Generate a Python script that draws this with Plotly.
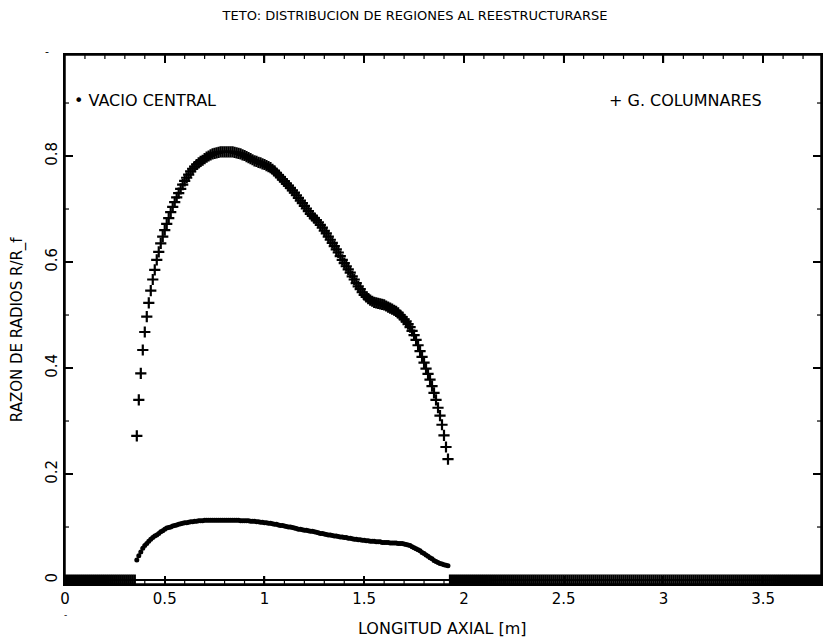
import plotly.graph_objects as go

# Axial grid of the computed profile (m)
AXIAL = [round(0.36 + 0.01 * i, 2) for i in range(157)]

COLUMNARES = [
    0.272, 0.340, 0.390, 0.434, 0.468, 0.497, 0.523, 0.546, 0.567, 0.585,
    0.604, 0.619, 0.635, 0.648, 0.660, 0.672, 0.683, 0.694, 0.704, 0.713,
    0.722, 0.730, 0.738, 0.746, 0.753, 0.759, 0.765, 0.771, 0.776, 0.780,
    0.784, 0.787, 0.790, 0.792, 0.795, 0.798, 0.800, 0.802, 0.804, 0.805,
    0.806, 0.807, 0.808, 0.808, 0.808, 0.808, 0.808, 0.808, 0.808, 0.807,
    0.806, 0.805, 0.804, 0.802, 0.801, 0.799, 0.797, 0.795, 0.793, 0.791,
    0.790, 0.788, 0.787, 0.785, 0.784, 0.782, 0.780, 0.778, 0.775, 0.772,
    0.768, 0.764, 0.760, 0.756, 0.752, 0.748, 0.744, 0.740, 0.735, 0.731,
    0.726, 0.721, 0.716, 0.711, 0.706, 0.701, 0.696, 0.691, 0.687, 0.683,
    0.679, 0.675, 0.670, 0.665, 0.659, 0.654, 0.648, 0.642, 0.636, 0.630,
    0.624, 0.618, 0.611, 0.604, 0.598, 0.592, 0.586, 0.580, 0.573, 0.567,
    0.560, 0.554, 0.549, 0.543, 0.538, 0.534, 0.531, 0.528, 0.526, 0.524,
    0.523, 0.522, 0.521, 0.520, 0.519, 0.517, 0.515, 0.513, 0.511, 0.509,
    0.507, 0.504, 0.500, 0.496, 0.492, 0.488, 0.483, 0.477, 0.470, 0.462,
    0.453, 0.443, 0.432, 0.421, 0.410, 0.399, 0.389, 0.378, 0.366, 0.353,
    0.340, 0.325, 0.310, 0.293, 0.273, 0.251, 0.228,
]

VACIO = [
    0.038, 0.046, 0.053, 0.060, 0.065, 0.069, 0.073, 0.077, 0.080, 0.083,
    0.085, 0.088, 0.091, 0.093, 0.096, 0.098, 0.099, 0.100, 0.102, 0.103,
    0.104, 0.105, 0.106, 0.107, 0.108, 0.108, 0.109, 0.110, 0.110, 0.111,
    0.111, 0.112, 0.112, 0.112, 0.113, 0.113, 0.113, 0.113, 0.113, 0.113,
    0.113, 0.113, 0.113, 0.113, 0.113, 0.113, 0.113, 0.113, 0.113, 0.113,
    0.113, 0.113, 0.112, 0.112, 0.112, 0.112, 0.112, 0.111, 0.111, 0.111,
    0.110, 0.110, 0.109, 0.109, 0.108, 0.108, 0.107, 0.107, 0.106, 0.105,
    0.105, 0.104, 0.103, 0.103, 0.102, 0.101, 0.100, 0.100, 0.099, 0.098,
    0.097, 0.096, 0.096, 0.095, 0.094, 0.094, 0.093, 0.092, 0.092, 0.091,
    0.090, 0.089, 0.088, 0.088, 0.087, 0.086, 0.085, 0.085, 0.084, 0.083,
    0.083, 0.082, 0.081, 0.081, 0.080, 0.080, 0.079, 0.079, 0.078, 0.077,
    0.077, 0.076, 0.076, 0.075, 0.075, 0.074, 0.074, 0.073, 0.073, 0.073,
    0.072, 0.072, 0.072, 0.071, 0.071, 0.071, 0.071, 0.070, 0.070, 0.070,
    0.070, 0.069, 0.069, 0.069, 0.068, 0.067, 0.066, 0.065, 0.063, 0.061,
    0.059, 0.057, 0.055, 0.052, 0.050, 0.047, 0.045, 0.042, 0.040, 0.037,
    0.035, 0.033, 0.031, 0.030, 0.029, 0.028, 0.027,
]

# Outside the fuel column both regions have zero radius
AXIAL_ZERO = [round(0.01 * i, 2) for i in range(0, 36)] + [round(1.93 + 0.01 * i, 2) for i in range(0, 187)]
ZERO = [0.0] * len(AXIAL_ZERO)

# Major tick values (labels use default formatting: 0, 0.5, 1, ... / 0, 0.2, ...)
X_TICKS = [0, 0.5, 1, 1.5, 2, 2.5, 3, 3.5]
Y_TICKS = [0, 0.2, 0.4, 0.6, 0.8]
X_MINOR = [round(0.1 * i, 1) for i in range(1, 38)]
Y_MINOR = [round(0.1 * i, 1) for i in range(1, 10)]

FONT = "DejaVu Sans, Liberation Sans, sans-serif"
INK = "black"

fig = go.Figure()

# zero band
fig.add_trace(go.Scatter(
    x=AXIAL_ZERO, y=ZERO, mode="markers",
    marker=dict(symbol="cross-thin", size=8, color=INK, line=dict(width=2.2, color=INK)),
    showlegend=False, hoverinfo="skip"))

fig.add_trace(go.Scatter(
    x=AXIAL, y=VACIO, mode="markers", name="VACIO CENTRAL",
    marker=dict(symbol="circle", size=5, color=INK, line=dict(width=0)),
    showlegend=False))

fig.add_trace(go.Scatter(
    x=AXIAL, y=COLUMNARES, mode="markers", name="G. COLUMNARES",
    marker=dict(symbol="cross-thin", size=8, color=INK, line=dict(width=2.2, color=INK)),
    showlegend=False))

PLOT_L, PLOT_R, PLOT_T, PLOT_B = 65, 823, 55, 584
PW, PH = PLOT_R - PLOT_L, PLOT_B - PLOT_T


def fx(x):
    return (x - PLOT_L) / PW


def fy(y):
    return (PLOT_B - y) / PH


# Tick marks along all four sides (inside), placed at the axis values
MAJ, MIN = 8, 4
shapes = [dict(type="rect", xref="paper", yref="paper", x0=0, x1=1, y0=0, y1=1,
               line=dict(color=INK, width=1.5), layer="above")]
for v in X_MINOR:
    L = (MAJ if any(abs(v - t) < 1e-9 for t in X_TICKS) else MIN) / PH
    w = 1.5 if L * PH == MAJ else 1.2
    shapes.append(dict(type="line", xref="x", yref="paper", x0=v, x1=v, y0=0, y1=L,
                       line=dict(color=INK, width=w), layer="above"))
    shapes.append(dict(type="line", xref="x", yref="paper", x0=v, x1=v, y0=1, y1=1 - L,
                       line=dict(color=INK, width=w), layer="above"))
for v in Y_MINOR:
    L = (MAJ if any(abs(v - t) < 1e-9 for t in Y_TICKS) else MIN) / PW
    w = 1.5 if L * PW == MAJ else 1.2
    shapes.append(dict(type="line", xref="paper", yref="y", x0=0, x1=L, y0=v, y1=v,
                       line=dict(color=INK, width=w), layer="above"))
    shapes.append(dict(type="line", xref="paper", yref="y", x0=1, x1=1 - L, y0=v, y1=v,
                       line=dict(color=INK, width=w), layer="above"))

fig.update_layout(
    width=828, height=640,
    margin=dict(l=PLOT_L, r=828 - PLOT_R, t=PLOT_T, b=640 - PLOT_B),
    paper_bgcolor="white", plot_bgcolor="white", showlegend=False,
    font=dict(family=FONT, color=INK, size=12),
    title=dict(text="TETO: DISTRIBUCION DE REGIONES AL REESTRUCTURARSE",
               x=415 / 828, xanchor="center", y=1 - 15 / 640, yanchor="middle",
               font=dict(size=13, family=FONT)),
    shapes=shapes,
    annotations=[
        dict(text="• VACIO CENTRAL", xref="paper", yref="paper", x=fx(72), y=fy(100),
             xanchor="left", yanchor="middle", showarrow=False, font=dict(size=16, family=FONT)),
        dict(text="+ G. COLUMNARES", xref="paper", yref="paper", x=fx(608), y=fy(100),
             xanchor="left", yanchor="middle", showarrow=False, font=dict(size=16, family=FONT)),
        dict(text="RAZON DE RADIOS R/R_f", xref="paper", yref="paper", x=fx(17), y=fy(330),
             xanchor="center", yanchor="middle", textangle=-90, showarrow=False,
             font=dict(size=15, family=FONT)),
        dict(text="LONGITUD AXIAL [m]", xref="paper", yref="paper", x=fx(443), y=fy(628),
             xanchor="center", yanchor="middle", showarrow=False,
             font=dict(size=16, family=FONT)),
        dict(text="-", xref="paper", yref="paper", x=fx(47), y=fy(52),
             xanchor="center", yanchor="middle", showarrow=False, font=dict(size=11, family=FONT)),
        dict(text="-", xref="paper", yref="paper", x=fx(65), y=fy(615),
             xanchor="center", yanchor="middle", showarrow=False, font=dict(size=9, family=FONT)),
    ],
)

fig.update_xaxes(
    range=[0, 3.79], showgrid=False, zeroline=False,
    showline=True, linecolor=INK, linewidth=1.5, mirror="allticks",
    ticks="inside", ticklen=8, tickwidth=1.5, tickcolor=INK,
    tickvals=X_TICKS, tickfont=dict(size=15, family=FONT, color=INK),
)

fig.update_yaxes(
    range=[-0.0075, 0.9906], showgrid=False,
    zeroline=True, zerolinecolor=INK, zerolinewidth=1.5,
    showline=True, linecolor=INK, linewidth=1.5, mirror="allticks",
    ticks="inside", ticklen=8, tickwidth=1.5, tickcolor=INK,
    tickvals=Y_TICKS, tickangle=-90, tickfont=dict(size=15, family=FONT, color=INK),
)

fig.write_html("out.html")
